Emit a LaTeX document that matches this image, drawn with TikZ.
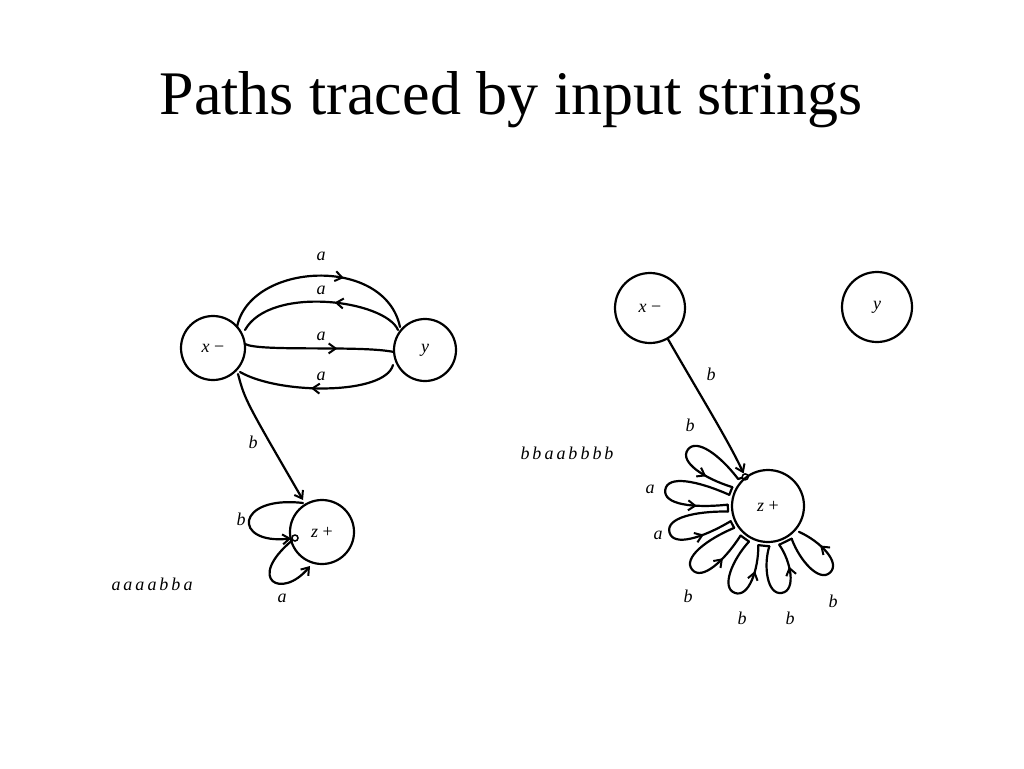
\documentclass[tikz,border=0pt]{standalone}
\usepackage{fontspec}
\newfontfamily\titlefont{Liberation Serif}
\usetikzlibrary{arrows.meta,decorations.markings,calc}
\begin{document}
\begin{tikzpicture}[x=1pt,y=-1pt,
  st/.style={draw,circle,line width=2.2pt,inner sep=0pt,font=\titlefont\itshape\fontsize{18}{20}\selectfont},
  ed/.style={line width=2.2pt,line cap=round,line join=round},
  tip/.style={-{Straight Barb[length=7pt,width=10pt,line width=2pt]}},
  mk/.style={postaction={decorate},decoration={markings,mark=at position #1 with {\arrow{Straight Barb[length=7pt,width=10pt,line width=2pt]}}}},
  lb/.style={font=\titlefont\itshape\fontsize{18}{20}\selectfont}]
\useasboundingbox (0,0) rectangle (1024,768);
\node[font=\titlefont\fontsize{62}{70}\selectfont] (title) at (511,100) {Paths traced by input strings};
% left
\node[st,minimum size=64pt] (x1) at (213,348) {x \upshape−};
\node[st,minimum size=62pt] (y1) at (425,350) {y};
\node[st,minimum size=64pt] (z1) at (322,532) {z \upshape+};
\node[circle,draw,line width=1.5pt,minimum size=6pt,inner sep=0pt] (s1) at (295,538) {};
\draw[ed,mk=0.62] (237,327) .. controls (250,262) and (385,255) .. (400,327);
\draw[ed,mk=0.42] (398,330) .. controls (385,300) and (270,285) .. (245,330);
\draw[ed,mk=0.62] (245,344) .. controls (260,352) and (360,345) .. (394,352);
\draw[ed,mk=0.55] (393,365) .. controls (385,395) and (280,395) .. (240,372);
\draw[ed,tip] (238,374) .. controls (245,400) .. (303,500);
\draw[ed,tip] (303,503) .. controls (235,495) and (232,545) .. (s1);
\draw[ed,tip] (s1) .. controls (245,580) and (282,600) .. (310,566);
\node[lb] (l1) at (321,256) {a};
\node[lb] (l2) at (321,290) {a};
\node[lb] (l3) at (321,336) {a};
\node[lb] (l4) at (321,376) {a};
\node[lb] (l5) at (253,442) {b};
\node[lb] (l6) at (241,519) {b};
\node[lb] (l7) at (282,598) {a};
\node[lb] (w1) at (152,584) {a\,a\,a\,a\,b\,b\,a};
% right
\node[st,minimum size=70pt] (x2) at (650,308) {x \upshape−};
\node[st,minimum size=70pt] (y2) at (877,307) {y};
\node[st,minimum size=72pt] (z2) at (768,506) {z \upshape+};
\node[circle,draw,line width=1.5pt,minimum size=6pt,inner sep=0pt] (s2) at ($(z2)+(232:37)$) {};
\draw[ed,tip] (x2.-60) .. controls (700,395) and (728,440) .. (s2);
\node[lb] (r0) at (711,374) {b};
\node[lb] (w2) at (567,453) {b\,b\,a\,a\,b\,b\,b\,b};
\newcommand\petal[2]{\draw[ed,mk=0.78]
  ($(z2)+(#1:40)+(#1+90:5)$) .. controls ($(z2)+(#1:#2-30)+(#1+90:14)$) and ($(z2)+(#1:#2)+(#1+90:15)$) ..
  ($(z2)+(#1:#2)$) .. controls ($(z2)+(#1:#2)+(#1-90:15)$) and ($(z2)+(#1:#2-30)+(#1-90:14)$) ..
  ($(z2)+(#1:40)+(#1-90:5)$);}
\newcommand\joinp[2]{\draw[ed] ($(z2)+(#1:40)+(#1-90:5)$) -- ($(z2)+(#2:40)+(#2+90:5)$);}
\draw[ed] (s2) -- ($(z2)+(215:40)+(305:5)$);
\petal{215}{98}
\joinp{215}{189}
\petal{189}{104}
\joinp{189}{165}
\petal{165}{102}
\joinp{165}{140}
\petal{140}{99}
\joinp{140}{111}
\petal{111}{93}
\joinp{111}{81}
\petal{81}{88}
\joinp{81}{47}
\petal{47}{91}
\node[lb] (r1) at (690,425) {b};
\node[lb] (r2) at (650,489) {a};
\node[lb] (r3) at (658,535) {a};
\node[lb] (r4) at (688,596) {b};
\node[lb] (r5) at (742,618) {b};
\node[lb] (r6) at (790,618) {b};
\node[lb] (r7) at (833,601) {b};
\end{tikzpicture}
\end{document}
